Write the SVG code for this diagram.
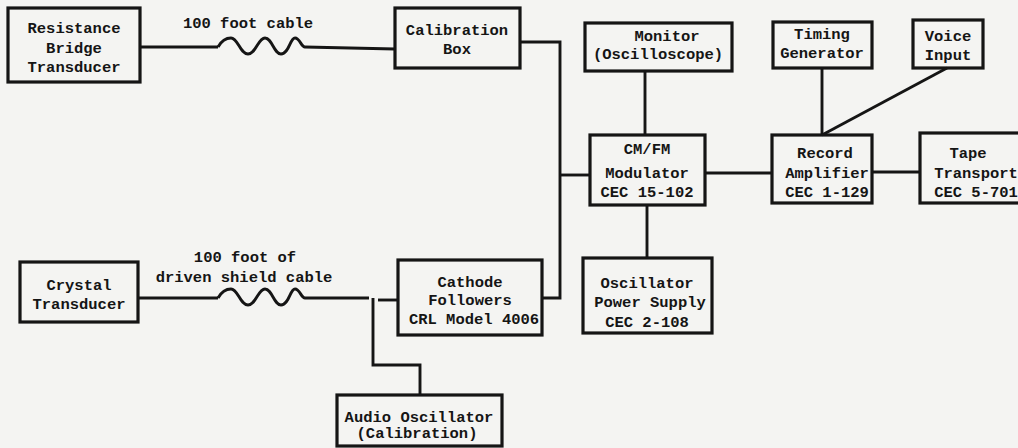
<svg xmlns="http://www.w3.org/2000/svg" width="1018" height="448" viewBox="0 0 1018 448">
<style>
.bx{fill:none;stroke:#151515;stroke-width:3.2}
.ln{fill:none;stroke:#151515;stroke-width:2.9;stroke-linejoin:miter}
text{font-family:"Liberation Mono","DejaVu Sans Mono",monospace;font-weight:bold;font-size:15.5px;fill:#151515;text-anchor:middle}
</style>
<defs>
<path id="wave" d="M218,47 C222,40 226,38 231,38 C238,38 240,54 248,54 C256,54 258,38 265,38 C272,38 274,54 281,54 C289,54 290,38 295,38 C300,38 301,47 305,47"/>
</defs>
<rect width="1018" height="448" fill="#f4f4f2"/>
<g id="connectors">
<path class="ln" d="M140,47 H218"/>
<use href="#wave" class="ln"/>
<path class="ln" d="M305,47 L395,49"/>
<path class="ln" d="M520,42 H560 V298 H542"/>
<path class="ln" d="M560,175 H590"/>
<path class="ln" d="M645,71 V135"/>
<path class="ln" d="M647,205 V258"/>
<path class="ln" d="M705,173 H772"/>
<path class="ln" d="M822,68 V135"/>
<path class="ln" d="M947,68 L822,135"/>
<path class="ln" d="M872,172 H920"/>
<path class="ln" d="M138,298 H218"/>
<use href="#wave" class="ln" transform="translate(0,251)"/>
<path class="ln" d="M305,298 H369"/>
<path class="ln" d="M378,300 H398"/>
<path class="ln" d="M373,298 V365 H420 V395"/>
</g>
<g id="resistance-bridge">
<rect class="bx" x="8" y="8" width="132" height="74"/>
<text x="74" y="33">Resistance</text>
<text x="74" y="53">Bridge</text>
<text x="74" y="72">Transducer</text>
</g>
<text id="cable-label-1" x="248" y="28">100 foot cable</text>
<g id="calibration-box">
<rect class="bx" x="395" y="8" width="125" height="60"/>
<text x="457" y="35">Calibration</text>
<text x="457" y="54">Box</text>
</g>
<g id="monitor">
<rect class="bx" x="585" y="23" width="147" height="48"/>
<text x="667" y="41">Monitor</text>
<text x="658" y="59">(Oscilloscope)</text>
</g>
<g id="timing-generator">
<rect class="bx" x="773" y="22" width="99" height="46"/>
<text x="822" y="39">Timing</text>
<text x="822" y="58">Generator</text>
</g>
<g id="voice-input">
<rect class="bx" x="913" y="20" width="70" height="48"/>
<text x="948" y="41">Voice</text>
<text x="948" y="60">Input</text>
</g>
<g id="modulator">
<rect class="bx" x="590" y="135" width="115" height="70"/>
<text x="647" y="154">CM/FM</text>
<text x="647" y="178">Modulator</text>
<text x="647" y="197">CEC 15-102</text>
</g>
<g id="record-amplifier">
<rect class="bx" x="772" y="135" width="100" height="68"/>
<text x="825" y="158">Record</text>
<text x="827" y="178">Amplifier</text>
<text x="827" y="197">CEC 1-129</text>
</g>
<g id="tape-transport">
<rect class="bx" x="920" y="133" width="110" height="70"/>
<text x="968" y="158">Tape</text>
<text x="976" y="178">Transport</text>
<text x="976" y="197">CEC 5-701</text>
</g>
<g id="crystal-transducer">
<rect class="bx" x="20" y="262" width="118" height="60"/>
<text x="79" y="290">Crystal</text>
<text x="79" y="309">Transducer</text>
</g>
<text id="cable-label-2a" x="245" y="262">100 foot of</text>
<text id="cable-label-2b" x="244" y="282">driven shield cable</text>
<g id="cathode-followers">
<rect class="bx" x="398" y="260" width="144" height="75"/>
<text x="470" y="287">Cathode</text>
<text x="470" y="305">Followers</text>
<text x="474" y="324">CRL Model 4006</text>
</g>
<g id="oscillator-power-supply">
<rect class="bx" x="583" y="258" width="129" height="75"/>
<text x="647" y="288">Oscillator</text>
<text x="650" y="307">Power Supply</text>
<text x="647" y="327">CEC 2-108</text>
</g>
<g id="audio-oscillator">
<rect class="bx" x="337" y="395" width="165" height="51"/>
<text x="419" y="422">Audio Oscillator</text>
<text x="417" y="438">(Calibration)</text>
</g>
</svg>
